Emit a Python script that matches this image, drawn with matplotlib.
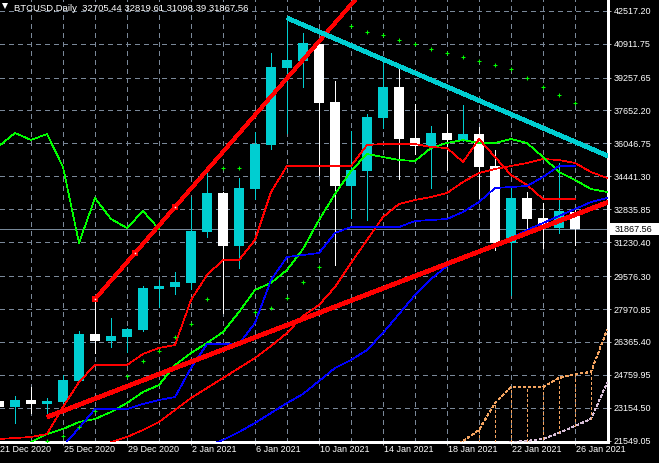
import matplotlib.pyplot as plt
import matplotlib.transforms as mtransforms
from matplotlib.patches import Rectangle
import numpy as np

plt.rcParams['font.family'] = ['Liberation Sans', 'DejaVu Sans']
plt.rcParams['lines.antialiased'] = False
plt.rcParams['patch.antialiased'] = False

# BTCUSD daily bars, 21 Dec 2020 .. 26 Jan 2021 (index 0 = 21 Dec)
symbol = "BTCUSD"
timeframe = "Daily"
opens = [23486, 23193, 23535, 23339, 23437, 24461, 26753, 26412, 26607, 26948,
         28947, 29045, 29238, 31727, 33628, 31044, 33823, 35969, 39723, 40065,
         40893, 38066, 33970, 34701, 37285, 38797, 36310, 35920, 36554, 36213,
         36505, 34945, 31190, 33384, 32409, 31921, 32705.44]
highs = [23632, 23730, 24169, 23632, 24754, 26899, 28460, 27533, 27046, 29093,
         29386, 29776, 33433, 34603, 33677, 34360, 36602, 40455, 42161, 41430,
         41186, 39089, 36651, 37480, 40113, 39723, 37968, 36895, 37480, 37919,
         36847, 35725, 33921, 33677, 33141, 35091, 32819.61]
lows = [23047, 22413, 22901, 22706, 23339, 24412, 25826, 26119, 25875, 26899,
        28070, 28703, 28947, 31483, 27777, 29971, 33336, 35774, 36554, 38797,
        34506, 30118, 32409, 32312, 36798, 34311, 35530, 33873, 34750, 36164,
        33384, 30849, 28655, 31678, 30947, 31678, 31098.39]
closes = [23193, 23535, 23339, 23486, 24510, 26753, 26412, 26655, 26997, 28996,
          29093, 29289, 31775, 33628, 31044, 33873, 36018, 39772, 40113, 40942,
          38017, 33970, 34750, 37334, 38797, 36261, 35920, 36554, 36213, 36505,
          34896, 31190, 33384, 32360, 31921, 32750, 31867.56]

# Ichimoku
tenkan = [21633, 21682, 21731, 21877, 23194, 24413, 25242, 25242, 25242, 25778,
          26071, 26217, 28411, 29630, 30361, 30361, 31337, 33677, 34945, 34945,
          34945, 34945, 34945, 35969, 36018, 36018, 36018, 35871, 35823, 35140,
          36261, 35384, 34506, 34018, 33336, 33336, 33336]
kijun_start = 4
kijun = [21292, 22170, 23096, 23096, 23096, 23340, 23535, 23681, 25095, 26266,
         26266, 26266, 27290, 29386, 30508, 30605, 30703, 31678, 31970, 31970,
         31970, 31970, 32263, 32312, 32361, 32702, 33189, 33872, 33921, 33970,
         34408, 34945, 34945]
span_a_start = 28
span_a = [21000, 21536, 22072, 23389, 24169, 24169, 24169, 24608, 24803, 24900, 26948]
span_b_start = 31
span_b = [21243, 21487, 21536, 21633, 21926, 22267, 22609, 24364]
chikou_shift = 26

# Alligator
jaw_start = 13
jaw = [21292, 21585, 21975, 22414, 22901, 23389, 23828, 24461, 25095, 25485,
       25973, 26802, 27728, 28655, 29435, 30069, 30508, 30849, 31142, 31434,
       31824, 32166, 32507, 32848, 33189, 33385]
teeth_start = 7
teeth = [21487, 21731, 22072, 22462, 23047, 23633, 24120, 24608, 25095, 25583,
         26168, 26802, 27631, 28167, 29045, 30215, 31337, 32458, 33092, 33287,
         33433, 33628, 34165, 34604, 34799, 34945, 35091, 35286, 35237, 35091,
         34652, 34360]
lips_start = 2
lips = [21487, 21877, 22121, 22462, 22609, 22950, 23389, 23925, 24266, 25242,
        25827, 26314, 26851, 27826, 28899, 29240, 29874, 30898, 32312, 33580,
        34701, 35530, 35384, 35237, 35189, 35823, 36066, 36213, 36066, 36066,
        36261, 36066, 35384, 34652, 34262, 33823, 33677]

# Parabolic SAR
sar_start = 3
sar = [21536, 21780, 22218, 22999, 23925, 24705, 25437, 25924, 26607, 27241,
       28460, 34847, 34847, 27826, 28021, 28509, 29289, 30020, 41966, 41771,
       41479, 41332, 41089, 40894, 40650, 40455, 40260, 40065, 39870, 39675,
       39236, 38797, 38407, 38017]

# drawn objects (day index, price)
lower_red_days = [3, 36]
lower_red_prices = [22706, 32565]
upper_red_days = [6, 11]
upper_red_prices = [28460, 32946]
cyan_days = [18, 36]
cyan_prices = [42161, 36125]

y_ticks = [42517.20, 40911.75, 39257.65, 37652.20, 36046.75, 34441.30, 32835.85,
           31230.40, 29576.30, 27970.85, 26365.40, 24759.95, 23154.50, 21549.05]
x_label_days = [0, 4, 8, 12, 16, 20, 24, 28, 32, 36]
x_labels = ["21 Dec 2020", "25 Dec 2020", "29 Dec 2020", "2 Jan 2021", "6 Jan 2021",
            "10 Jan 2021", "14 Jan 2021", "18 Jan 2021", "22 Jan 2021", "26 Jan 2021"]

N = 39
days = np.arange(N)


def series(start, vals):
    out = np.full(N, np.nan)
    out[start:start + len(vals)] = vals
    return out


def ray(d, p, x_end=40):
    slope = (p[1] - p[0]) / (d[1] - d[0])
    return [d[0], x_end], [p[0], p[0] + slope * (x_end - d[0])]


teal = '#00CED1'
grid_c = '#7A8899'
lw1 = 0.5          # one screen pixel, aliased like the terminal
dash = (0, (5.8, 5.8))
cloud_dash = (0, (4.3, 4.3))
ymin, ymax = 21487, 43039

fig = plt.figure(figsize=(6.59, 4.63), dpi=100, facecolor='black')
ax = fig.add_axes([0, 21 / 463, 608 / 659, 442 / 463])
ax.set_facecolor('black')
ax.set_xlim(0.0625, 38.0625)
ax.set_ylim(ymin, ymax)

for y in y_ticks:
    ax.axhline(y, color=grid_c, lw=lw1, ls=dash, zorder=0)
for k in range(0, N + 1, 2):
    ax.axvline(k, color=grid_c, lw=lw1, ls=dash, zorder=0)

# bid line
ax.axhline(closes[-1], color='#778899', lw=lw1, zorder=1)

# candles
w = 0.67
for k in range(len(opens)):
    o, h, l, c = opens[k], highs[k], lows[k], closes[k]
    col = teal if c >= o else 'white'
    ax.vlines(k, l, h, color=col, lw=lw1, zorder=2, antialiased=False)
    lo, hi = min(o, c), max(o, c)
    ax.add_patch(Rectangle((k - w / 2, lo), w, max(hi - lo, 50), facecolor=col,
                           edgecolor='none', zorder=2))

# indicators
sa = series(span_a_start, span_a)
sb = series(span_b_start, span_b)
ax.plot(days, sa, color='#F4A460', lw=lw1, ls=cloud_dash, zorder=3)
ax.plot(days, sb, color='#D8BFD8', lw=lw1, ls=cloud_dash, zorder=3)
for k in range(30, 38):
    bottom = sb[k] if not np.isnan(sb[k]) else ymin
    ax.vlines(k, bottom, sa[k], color='#F4A460', lw=lw1, linestyles=cloud_dash,
              zorder=3, antialiased=False)

ax.plot(days, series(jaw_start, jaw), color='#0000FF', lw=lw1, zorder=3)
ax.plot(days, series(teeth_start, teeth), color='#FF0000', lw=lw1, zorder=3)
ax.plot(days, series(lips_start, lips), color='#00FF00', lw=lw1, zorder=3)
ax.plot(days, series(0, tenkan), color='#FF0000', lw=lw1, zorder=3)
ax.plot(days, series(kijun_start, kijun), color='#0000FF', lw=lw1, zorder=3)
chikou = closes[chikou_shift:]
ax.plot(days[:len(chikou)], chikou, color='#00FF00', lw=lw1, zorder=3)
ax.plot(days, series(sar_start, sar), ls='none', marker='+', ms=3.2, mew=0.75,
        color='#00FF00', zorder=3)

# trendlines
xs, ys = ray(lower_red_days, lower_red_prices)
ax.plot(xs, ys, color='#FF0000', lw=2.6, solid_capstyle='butt', zorder=5)
xs, ys = ray(upper_red_days, upper_red_prices)
ax.plot(xs, ys, color='#FF0000', lw=2.1, solid_capstyle='butt', zorder=5)
xs, ys = ray(cyan_days, cyan_prices)
ax.plot(xs, ys, color=teal, lw=2.6, solid_capstyle='butt', zorder=5)
sq_d = [upper_red_days[0], np.mean(upper_red_days), upper_red_days[1]]
sq_p = [upper_red_prices[0], np.mean(upper_red_prices), upper_red_prices[1]]
ax.plot(sq_d, sq_p, 's', ms=5, color='#FF0000', mew=0, zorder=6)
ax.plot(sq_d, sq_p, 's', ms=1.1, color='white', mew=0, zorder=7)

# axes styling
for s in ['top', 'left']:
    ax.spines[s].set_visible(False)
for s in ['right', 'bottom']:
    ax.spines[s].set_color('white')
    ax.spines[s].set_linewidth(0.8)
ax.yaxis.tick_right()
ax.set_yticks(y_ticks)
ax.set_yticklabels([f"{v:.2f}" for v in y_ticks])
ax.tick_params(axis='y', colors='white', length=1.8, width=lw1, pad=2.2, labelsize=6.5)
ax.set_xticks(x_label_days[1:])
ax.set_xticklabels([])
ax.tick_params(axis='x', colors='white', length=2.2, width=lw1, direction='out')
for k, lab in zip(x_label_days, x_labels):
    ax.annotate(lab, xy=(k, 0), xycoords=('data', 'axes fraction'), xytext=(1, -3),
                textcoords='offset pixels', ha='left', va='top', color='white',
                fontsize=6.5, annotation_clip=False)

# current price label on the axis
ppx = (ymax - ymin) / 442
tr = mtransforms.blended_transform_factory(ax.transAxes, ax.transData)
ax.add_patch(Rectangle((610 / 608, closes[-1] - 6 * ppx), 49 / 608, 12 * ppx,
                       transform=tr, facecolor='white', edgecolor='none',
                       clip_on=False, zorder=8))
ax.text(615 / 608, closes[-1], f"{closes[-1]:.2f}", transform=tr, ha='left',
        va='center', color='black', fontsize=6.5, clip_on=False, zorder=9)

# chart title
ax.plot([4.5 / 608], [1 - 6 / 442], marker='v', ms=4.2, color='white', mew=0,
        transform=ax.transAxes, clip_on=False, zorder=9, antialiased=True)
title = f"{symbol},{timeframe}  {opens[-1]:.2f} {highs[-1]:.2f} {lows[-1]:.2f} {closes[-1]:.2f}"
ax.text(14 / 608, 1 - 10.7 / 442, title, transform=ax.transAxes, ha='left',
        va='baseline', color='white', fontsize=6.8, zorder=9)

fig.savefig('out.png', dpi=100, facecolor='black')
